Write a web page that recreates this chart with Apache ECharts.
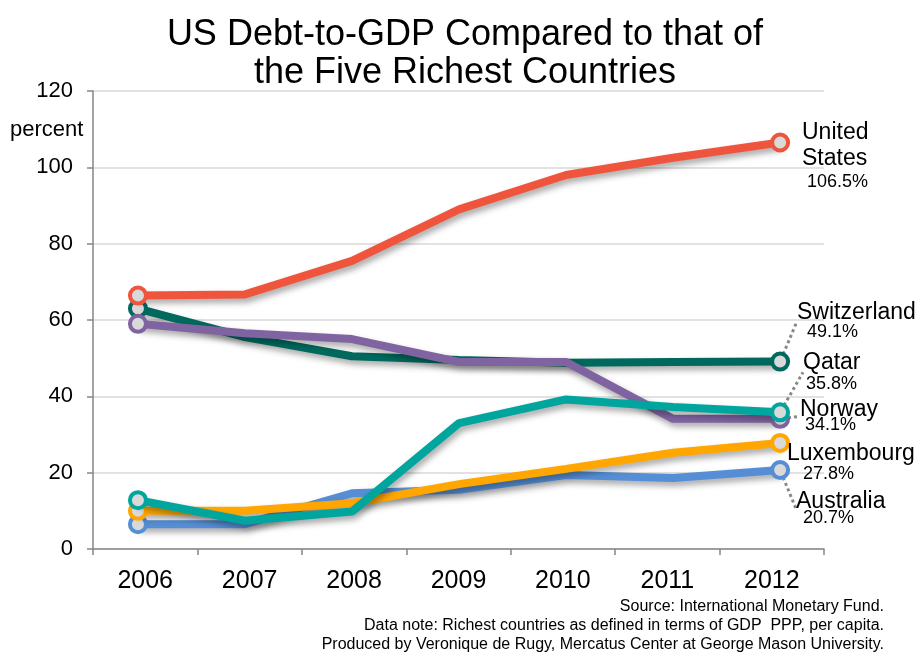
<!DOCTYPE html>
<html>
<head>
<meta charset="utf-8">
<script src="https://cdn.jsdelivr.net/npm/echarts@6/dist/echarts.min.js"></script>
<style>
html, body { margin: 0; padding: 0; background: #fff; }
#chart { width: 921px; height: 653px; }
</style>
</head>
<body>
<div id="chart"></div>
<script>
// data
var years = ['2006', '2007', '2008', '2009', '2010', '2011', '2012'];
var yTicks = [0, 20, 40, 60, 80, 100, 120];
var seriesNames = ['Switzerland', 'Norway', 'Australia', 'Luxembourg', 'Qatar', 'United States'];
var switzerland = [63, 55.5, 50.5, 49.5, 48.8, 49, 49.1];
var norway = [59, 56.5, 55, 49, 49, 34.1, 34.1];
var australia = [6.5, 6.5, 14.6, 15.5, 19.4, 18.6, 20.7];
var luxembourg = [10, 10, 12, 17, 21, 25.2, 27.8];
var qatar = [12.8, 7.4, 9.8, 33, 39.2, 37.2, 35.8];
var unitedStates = [66.4, 66.7, 75.5, 89, 98, 102.5, 106.5];
var endLabels = ['Switzerland', 'Norway', 'Australia', 'Luxembourg', 'Qatar', 'United\nStates'];
var endValues = ['49.1%', '34.1%', '20.7%', '27.8%', '35.8%', '106.5%'];

var values = [switzerland, norway, australia, luxembourg, qatar, unitedStates];
var colors = ['#00695E', '#8064A2', '#558ED5', '#FFA600', '#00A59D', '#EF553C'];
// label placement: x = left edge, y = top, pad = indent of percent line, nl/pl = line heights
var labelPos = [
    {x: 797, y: 302, pad: 10, nl: 21, pl: 19, line: true},
    {x: 800, y: 403, pad: 5, nl: 13, pl: 19, line: true},
    {x: 796, y: 494, pad: 7, nl: 15, pl: 19, line: true},
    {x: 787, y: 442, pad: 16, nl: 23, pl: 19, line: false},
    {x: 803, y: 350, pad: 3, nl: 25, pl: 19, line: true},
    {x: 802, y: 120, pad: 5, nl: 26, pl: 20, line: false}
];

var chart = echarts.init(document.getElementById('chart'));

var series = seriesNames.map(function (name, s) {
    var pos = labelPos[s];
    var last = values[s].length - 1;
    var data = values[s].map(function (v, i) {
        if (i !== last) return [i, v];
        return {
            value: [i, v],
            label: {
                show: true,
                formatter: '{n|' + endLabels[s].split('\n').join('}\n{n|') + '}\n{p|' + endValues[s] + '}',
                rich: {
                    n: {fontSize: 23, lineHeight: pos.nl, color: '#000', fontFamily: 'Liberation Sans'},
                    p: {fontSize: 18, lineHeight: pos.pl, color: '#000', fontFamily: 'Liberation Sans', padding: [0, 0, 0, pos.pad]}
                }
            },
            labelLine: {show: pos.line}
        };
    });
    return {
        name: name,
        type: 'line',
        xAxisIndex: 1,
        data: data,
        z: 2 + s,
        showAllSymbol: true,
        symbol: 'circle',
        symbolSize: function (v, p) {
            return (p.dataIndex === 0 || p.dataIndex === last) ? 16 : 0;
        },
        itemStyle: {color: '#D9D9D9', borderColor: colors[s], borderWidth: 4},
        lineStyle: {
            color: colors[s],
            width: 8,
            shadowColor: 'rgba(0,0,0,0.35)',
            shadowBlur: 6,
            shadowOffsetX: 2,
            shadowOffsetY: 4
        },
        label: {show: false, position: 'right', align: 'left'},
        labelLine: {
            show: false,
            lineStyle: {color: '#888', width: 3, type: 'dotted'}
        },
        labelLayout: {x: pos.x, y: pos.y, align: 'left', verticalAlign: 'top'},
        emphasis: {disabled: true},
        animation: false
    };
});

var option = {
    backgroundColor: '#fff',
    textStyle: {fontFamily: 'Liberation Sans'},
    title: {
        text: 'US Debt-to-GDP Compared to that of\nthe Five Richest Countries',
        left: 460,
        top: 11,
        textAlign: 'center',
        textStyle: {fontSize: 36, fontWeight: 'normal', color: '#000', lineHeight: 38, fontFamily: 'Liberation Sans'}
    },
    grid: {left: 93, right: 97, top: 91, bottom: 104},
    xAxis: [{
        type: 'category',
        data: years,
        boundaryGap: true,
        axisLine: {onZero: false, lineStyle: {color: '#868686', width: 1.5}},
        axisTick: {show: true, length: 6, lineStyle: {color: '#868686', width: 1.5}},
        axisLabel: {fontSize: 25, color: '#000', margin: 20}
    }, {
        // the plotted points sit a little wider than the category centres
        type: 'value',
        show: false,
        min: -0.42,
        max: 6.41
    }],
    yAxis: {
        type: 'value',
        min: 0,
        max: 120,
        interval: 20,
        axisLine: {show: true, onZero: false, lineStyle: {color: '#868686', width: 1.5}},
        axisTick: {show: true, length: 6, lineStyle: {color: '#868686', width: 1.5}},
        axisLabel: {
            fontSize: 22, color: '#000', margin: 20,
            formatter: function (v) { return yTicks.indexOf(v) >= 0 ? String(v) : ''; }
        },
        splitLine: {lineStyle: {color: '#D9D9D9', width: 1.5}}
    },
    graphic: [
        {type: 'text', left: 10, top: 119, style: {text: 'percent', fontSize: 22, fill: '#000', fontFamily: 'Liberation Sans'}},
        {type: 'text', right: 37, top: 599, style: {text: 'Source: International Monetary Fund.', fontSize: 16, fill: '#000', fontFamily: 'Liberation Sans'}},
        {type: 'text', right: 37, top: 618, style: {text: 'Data note: Richest countries as defined in terms of GDP  PPP, per capita.', fontSize: 16, fill: '#000', fontFamily: 'Liberation Sans'}},
        {type: 'text', right: 37, top: 637, style: {text: 'Produced by Veronique de Rugy, Mercatus Center at George Mason University.', fontSize: 16, fill: '#000', fontFamily: 'Liberation Sans'}}
    ],
    series: series
};
chart.setOption(option);
</script>
</body>
</html>
